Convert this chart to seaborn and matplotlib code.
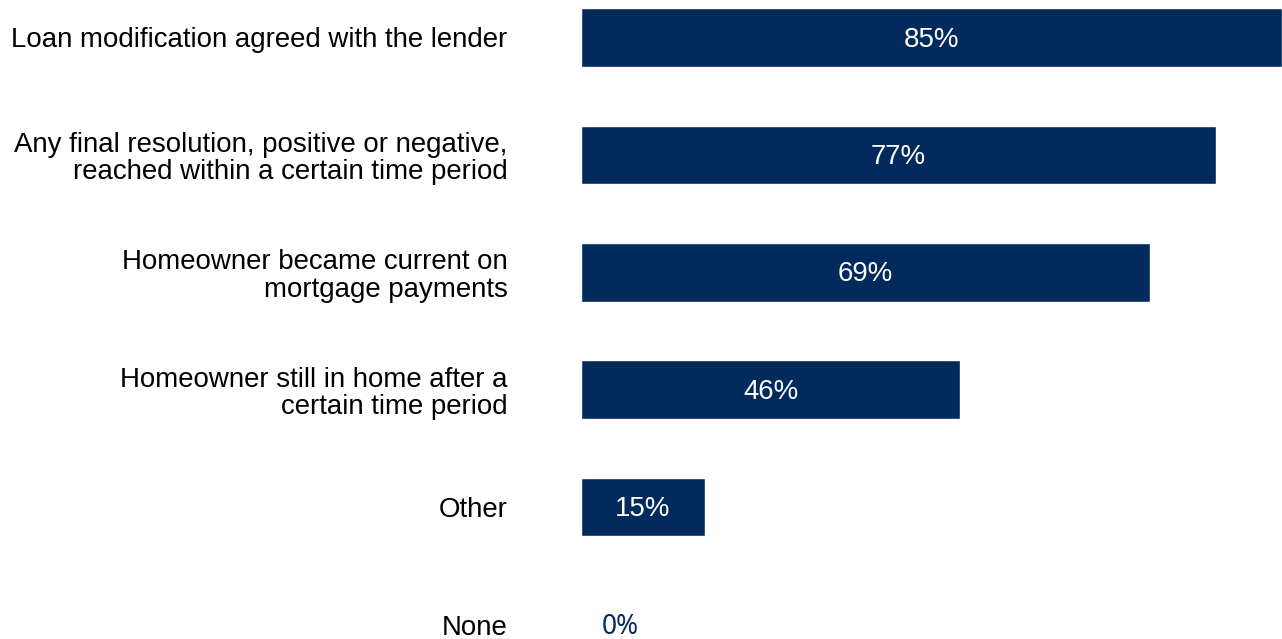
import matplotlib
matplotlib.use("Agg")
import matplotlib.pyplot as plt
import seaborn as sns
import pandas as pd

categories = [
    "Loan modification agreed with the lender",
    "Any final resolution, positive or negative,\nreached within a certain time period",
    "Homeowner became current on\nmortgage payments",
    "Homeowner still in home after a\ncertain time period",
    "Other",
    "None",
]
values = [85, 77, 69, 46, 15, 0]

NAVY = "#022A5C"

sns.set_theme(style="white")
plt.rcParams["font.family"] = ["Liberation Sans", "DejaVu Sans"]

df = pd.DataFrame({"category": categories, "value": values})

fig = plt.figure(figsize=(12.82, 6.39), dpi=100)
ax = fig.add_axes([581 / 1282, 0.0, 1 - 581 / 1282, 1.0])

sns.barplot(data=df, x="value", y="category", color=NAVY, saturation=1,
            width=0.5, ax=ax, orient="h")

ax.set_xlim(0, 85)
ax.set_ylim(5.123, -0.319)
ax.set_xlabel("")
ax.set_ylabel("")
ax.set_xticks([])
sns.despine(ax=ax, left=True, bottom=True, top=True, right=True)

ax.tick_params(axis="y", length=0, pad=53, labelsize=19.9, labelcolor="black")
for lbl in ax.get_yticklabels():
    lbl.set_linespacing(1.07)

for i, v in enumerate(values):
    if v > 0:
        ax.annotate(f"{v}%", xy=(v / 2, i), xytext=(0, -1.5),
                    textcoords="offset points", ha="center", va="center",
                    color="white", fontsize=19.9)
    else:
        ax.annotate(f"{v}%", xy=(v, i), xytext=(28, -1.5),
                    textcoords="offset points", ha="center", va="center",
                    color=NAVY, fontsize=19, family=["Noto Sans", "DejaVu Sans"])

fig.savefig("out.png", dpi=100)
